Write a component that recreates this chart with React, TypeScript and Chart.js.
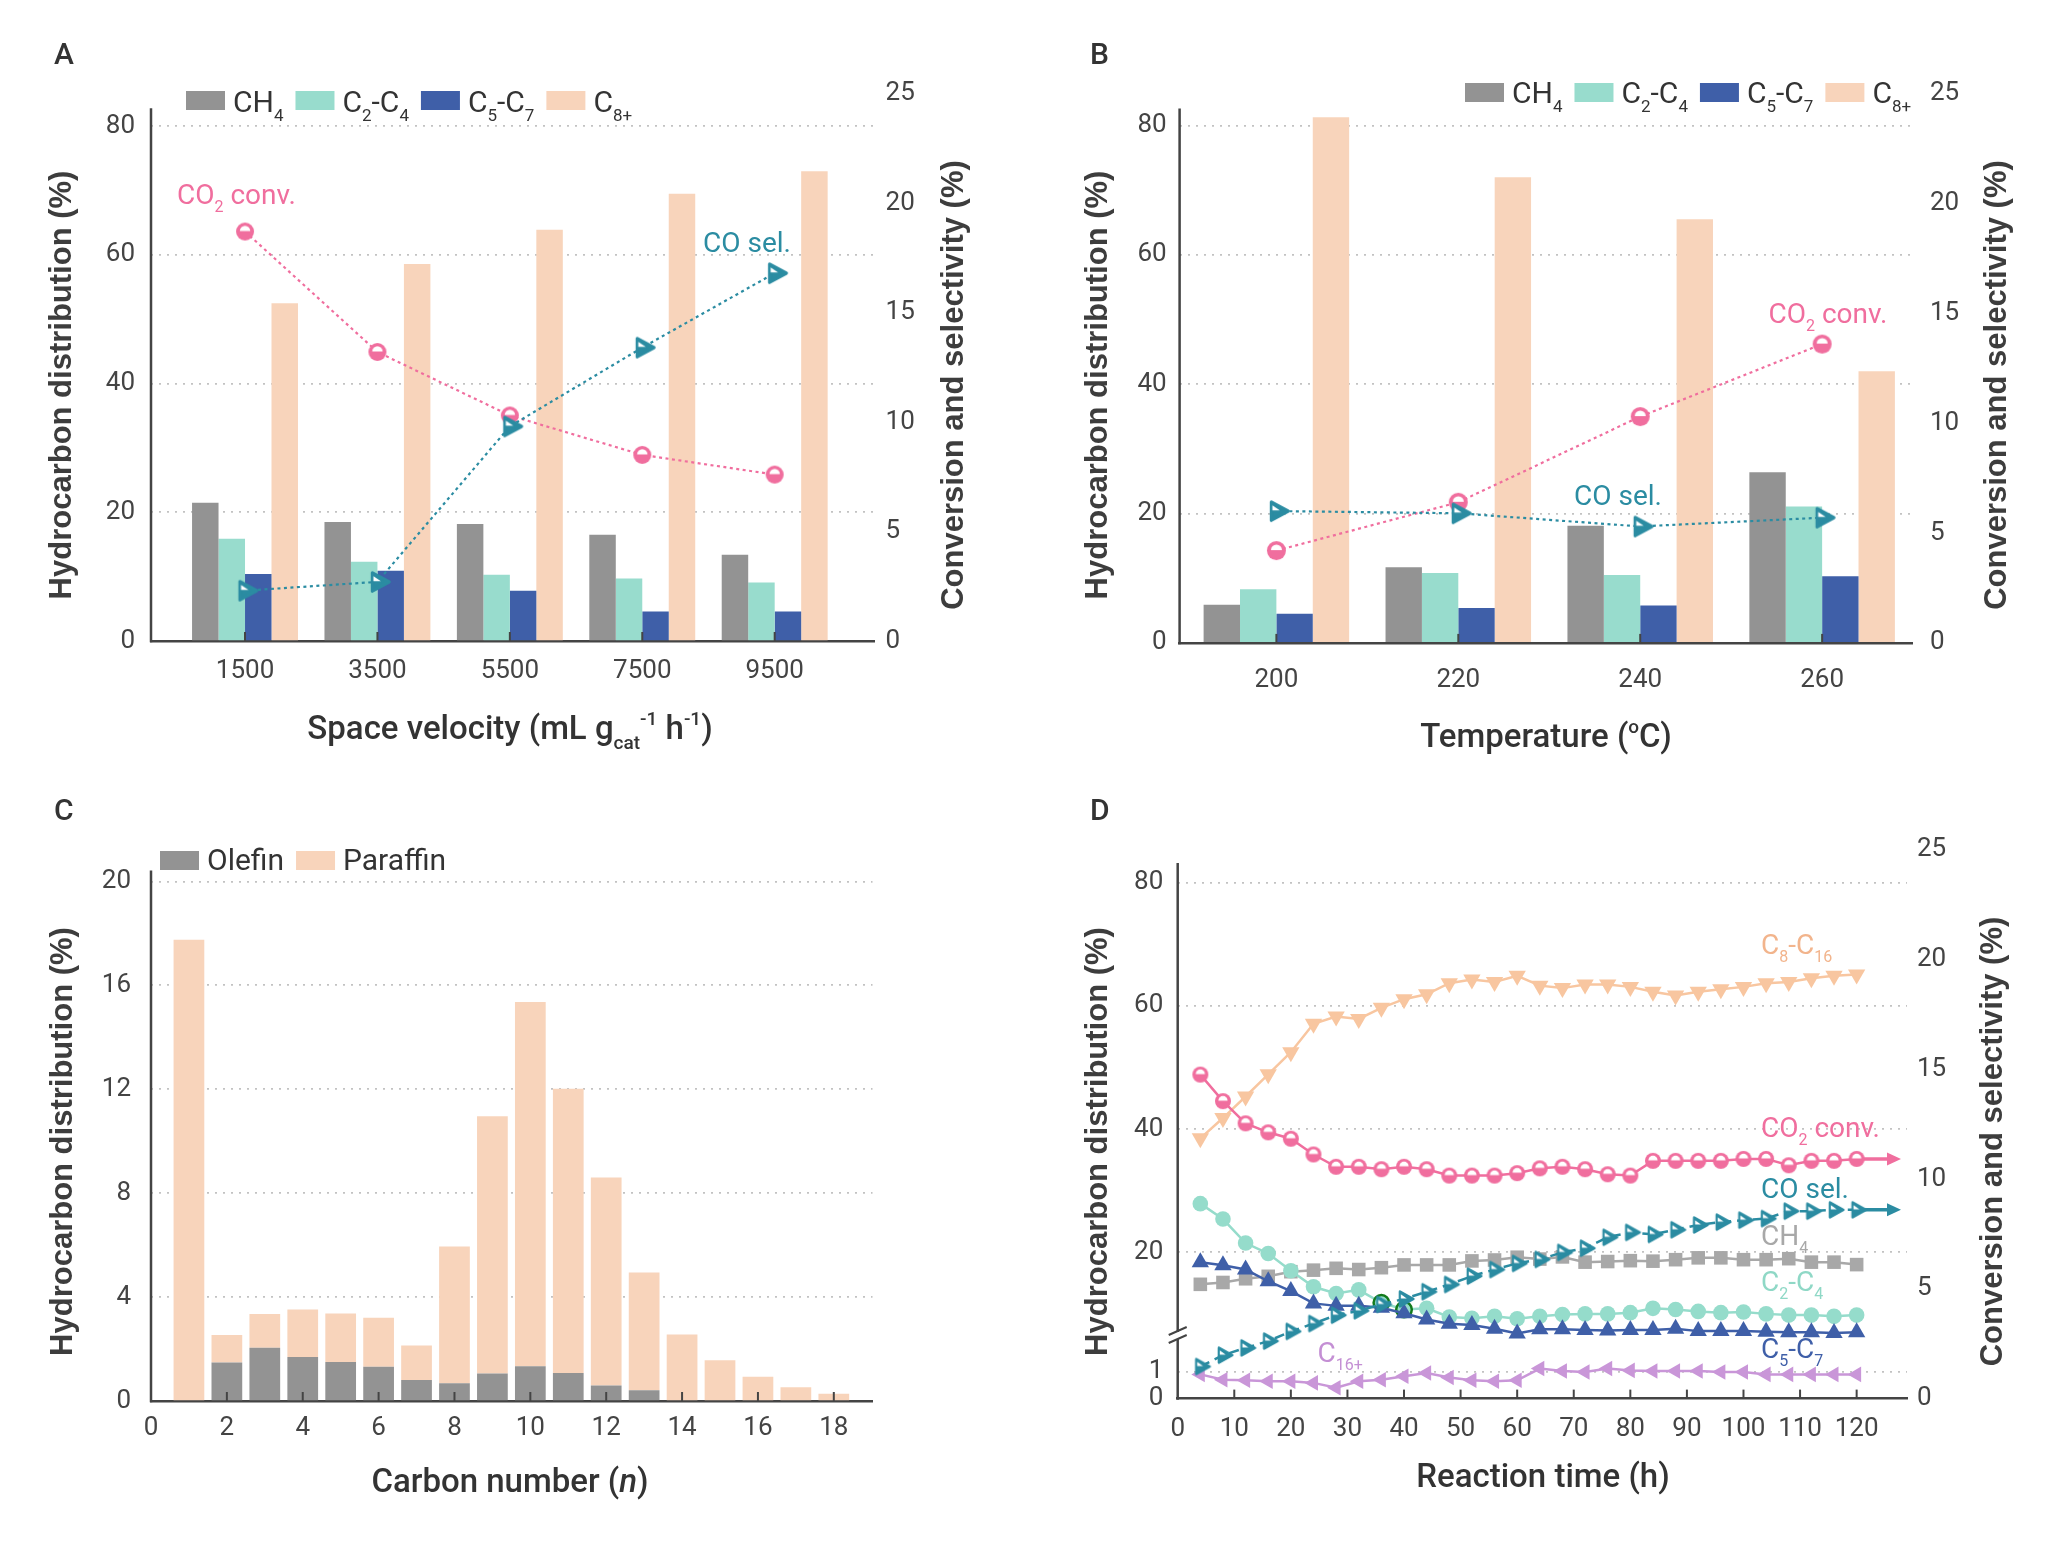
import React, { useEffect, useRef } from 'react';
import Chart from 'chart.js/auto';

// ---------- A: product distribution vs space velocity ----------
const velocityLabels = ['1500', '3500', '5500', '7500', '9500'];
const velocityCH4 = [21.5, 18.5, 18.2, 16.5, 13.4];
const velocityC2C4 = [15.9, 12.3, 10.3, 9.7, 9.1];
const velocityC5C7 = [10.4, 10.9, 7.8, 4.6, 4.6];
const velocityC8 = [52.5, 58.6, 63.9, 69.5, 73.0];
const velocityCO2Conv = [18.7, 13.2, 10.3, 8.5, 7.6];
const velocityCOSel = [2.3, 2.7, 9.8, 13.4, 16.8];

// ---------- B: product distribution vs temperature ----------
const tempLabels = ['200', '220', '240', '260'];
const tempCH4 = [5.9, 11.7, 18.1, 26.4];
const tempC2C4 = [8.3, 10.8, 10.5, 21.1];
const tempC5C7 = [4.5, 5.4, 5.8, 10.3];
const tempC8 = [81.3, 72.0, 65.5, 42.0];
const tempCO2Conv = [4.2, 6.4, 10.3, 13.6];
const tempCOSel = [6.0, 5.9, 5.3, 5.7];

// ---------- C: carbon number distribution ----------
const carbonNumbers = [1, 2, 3, 4, 5, 6, 7, 8, 9, 10, 11, 12, 13, 14, 15, 16, 17, 18];
const olefin = [0, 1.48, 2.05, 1.69, 1.5, 1.32, 0.81, 0.68, 1.06, 1.34, 1.08, 0.6, 0.41, 0, 0, 0, 0, 0];
const paraffin = [17.75, 1.06, 1.3, 1.83, 1.87, 1.88, 1.33, 5.27, 9.9, 14.02, 10.94, 8.0, 4.54, 2.56, 1.57, 0.93, 0.53, 0.28];

// ---------- D: stability test ----------
const hours = [4, 8, 12, 16, 20, 24, 28, 32, 36, 40, 44, 48, 52, 56, 60, 64, 68, 72, 76, 80, 84, 88, 92, 96, 100, 104, 108, 112, 116, 120];
const timeC8C16 = [38.5, 41.8, 45.3, 48.9, 52.5, 57.1, 58.3, 57.9, 59.7, 61.1, 61.9, 63.7, 64.3, 63.9, 64.9, 63.3, 62.9, 63.5, 63.5, 63.1, 62.3, 61.7, 62.3, 62.7, 63.1, 63.7, 63.9, 64.5, 64.9, 65.1];
const timeCO2Conv = [14.76, 13.55, 12.54, 12.13, 11.84, 11.12, 10.56, 10.56, 10.45, 10.56, 10.45, 10.16, 10.16, 10.16, 10.27, 10.49, 10.56, 10.45, 10.22, 10.16, 10.83, 10.83, 10.83, 10.83, 10.92, 10.92, 10.63, 10.83, 10.83, 10.92];
const timeCOSel = [1.46, 1.98, 2.31, 2.62, 3.06, 3.42, 3.8, 4.0, 4.29, 4.54, 4.87, 5.2, 5.58, 5.88, 6.16, 6.34, 6.66, 6.85, 7.35, 7.57, 7.48, 7.69, 7.91, 8.04, 8.13, 8.2, 8.54, 8.54, 8.6, 8.6];
const timeCH4 = [14.8, 15.1, 15.7, 16.1, 16.85, 17.1, 17.4, 17.2, 17.5, 17.95, 17.95, 17.95, 18.6, 18.75, 19.2, 18.9, 19.25, 18.4, 18.5, 18.64, 18.56, 18.8, 19.1, 19.1, 18.8, 18.8, 18.96, 18.4, 18.4, 18.0];
const timeC2C4 = [27.9, 25.4, 21.5, 19.8, 17.0, 14.4, 13.3, 13.9, 11.8, 10.7, 10.9, 9.5, 9.3, 9.6, 9.2, 9.6, 9.9, 10.0, 10.0, 10.2, 10.9, 10.7, 10.4, 10.2, 10.3, 10.0, 9.8, 9.8, 9.6, 9.8];
const timeC5C7 = [18.4, 17.9, 17.2, 15.3, 13.7, 11.7, 11.3, 11.3, 11.0, 10.1, 9.1, 8.4, 8.2, 7.6, 6.8, 7.5, 7.5, 7.4, 7.3, 7.4, 7.4, 7.6, 7.2, 7.2, 7.2, 7.1, 7.0, 7.0, 6.9, 7.0];
const timeC16 = [0.91, 0.71, 0.69, 0.65, 0.65, 0.59, 0.41, 0.65, 0.71, 0.84, 0.96, 0.79, 0.69, 0.65, 0.69, 1.13, 1.04, 1.0, 1.13, 1.06, 1.04, 1.04, 1.04, 1.0, 1.0, 0.91, 0.91, 0.91, 0.91, 0.91];
const ringedHours = [36, 40]; // C2-C4 points drawn with a green ring

// ---------- tick labels ----------
const hydroTicks = [0, 20, 40, 60, 80];
const convTicks = [0, 5, 10, 15, 20, 25];
const carbonYTicks = [0, 4, 8, 12, 16, 20];
const carbonXTicks = [0, 2, 4, 6, 8, 10, 12, 14, 16, 18];
const hourTicks = [0, 10, 20, 30, 40, 50, 60, 70, 80, 90, 100, 110, 120];
const hydroUpperTicks = [20, 40, 60, 80];
const hydroLowerTicks = [0, 1];

const W = 1028;
const H = 772;

const GRAY = '#939393';
const MINT = '#98dccd';
const NAVY = '#3f5fa8';
const PEACH = '#f8d4bb';
const PINK = '#f06e9e';
const TEAL = '#2b8ca2';
const AXIS = '#444444';
const GRID = '#c2c2c2';
const TEXT = '#333333';
const FONT = 'Roboto, "Noto Sans", sans-serif';
const TITLE_FONT = 'bold 31px "Liberation Sans", Arial, sans-serif';
const TICK_FONT = { family: FONT, size: 26 };
const XTITLE = { size: 33, weight: 500, color: TEXT, align: 'center' as const };

const barLegend: [string, string][] = [
  ['CH_{4}', GRAY],
  ['C_{2}-C_{4}', MINT],
  ['C_{5}-C_{7}', NAVY],
  ['C_{8+}', PEACH],
];

Chart.defaults.font.family = FONT;

// ---------- text helpers ----------
type Part = { t: string; s?: 'sub' | 'sup'; i?: boolean };

// "C_{2}" subscript, "^{-1}" superscript, "~{n}" italic
function rich(src: string): Part[] {
  const parts: Part[] = [];
  let buf = '';
  let k = 0;
  while (k < src.length) {
    const ch = src[k];
    if ((ch === '_' || ch === '^' || ch === '~') && src[k + 1] === '{') {
      if (buf) parts.push({ t: buf });
      buf = '';
      const end = src.indexOf('}', k + 2);
      const t = src.slice(k + 2, end);
      parts.push(ch === '~' ? { t, i: true } : { t, s: ch === '_' ? 'sub' : 'sup' });
      k = end + 1;
    } else {
      buf += ch;
      k++;
    }
  }
  if (buf) parts.push({ t: buf });
  return parts;
}

function drawRich(
  ctx: CanvasRenderingContext2D,
  src: string,
  x: number,
  y: number,
  o: { size: number; color: string; weight?: number; align?: 'left' | 'center' }
) {
  const parts = rich(src);
  const wt = o.weight || 400;
  const fontFor = (p: Part) =>
    `${p.i ? 'italic ' : ''}${wt} ${p.s ? Math.round(o.size * 0.58) : o.size}px ${FONT}`;
  ctx.save();
  ctx.fillStyle = o.color;
  ctx.textAlign = 'left';
  ctx.textBaseline = 'alphabetic';
  let total = 0;
  for (const p of parts) {
    ctx.font = fontFor(p);
    total += ctx.measureText(p.t).width;
  }
  let cx = o.align === 'center' ? x - total / 2 : x;
  for (const p of parts) {
    ctx.font = fontFor(p);
    const dy = p.s === 'sub' ? o.size * 0.3 : p.s === 'sup' ? -o.size * 0.42 : 0;
    ctx.fillText(p.t, cx, y + dy);
    cx += ctx.measureText(p.t).width;
  }
  ctx.restore();
  return cx;
}

function vTitle(ctx: CanvasRenderingContext2D, text: string, cx: number, cy: number) {
  ctx.save();
  ctx.translate(cx, cy);
  ctx.rotate(-Math.PI / 2);
  ctx.font = TITLE_FONT;
  ctx.fillStyle = '#3d3d3d';
  ctx.textAlign = 'center';
  ctx.textBaseline = 'middle';
  ctx.fillText(text, 0, 0);
  ctx.restore();
}

function panelLetter(ctx: CanvasRenderingContext2D, t: string, x: number, y: number) {
  ctx.save();
  ctx.font = `500 30px ${FONT}`;
  ctx.fillStyle = TEXT;
  ctx.textAlign = 'left';
  ctx.textBaseline = 'alphabetic';
  ctx.fillText(t, x, y);
  ctx.restore();
}

function drawLegend(ctx: CanvasRenderingContext2D, items: [string, string][], x: number, boxTop: number, baseline: number) {
  let cx = x;
  for (const [label, color] of items) {
    ctx.fillStyle = color;
    ctx.fillRect(cx, boxTop, 39, 19);
    cx = drawRich(ctx, label, cx + 47, baseline, { size: 30, color: TEXT }) + 12;
  }
}

// ---------- axis helpers ----------
function leftAxisLine(chart: any, scaleId: string, topValue: number) {
  const { ctx, chartArea } = chart;
  const y0 = chart.scales[scaleId].getPixelForValue(topValue);
  ctx.save();
  ctx.strokeStyle = AXIS;
  ctx.lineWidth = 2.5;
  ctx.beginPath();
  ctx.moveTo(chartArea.left, y0);
  ctx.lineTo(chartArea.left, chartArea.bottom + 1.25);
  ctx.stroke();
  ctx.restore();
}

function innerTicks(chart: any) {
  const { ctx, chartArea } = chart;
  const x = chart.scales.x;
  ctx.save();
  ctx.strokeStyle = AXIS;
  ctx.lineWidth = 2;
  for (const t of x.ticks) {
    if (t.value <= x.min) continue;
    const px = x.getPixelForValue(t.value);
    ctx.beginPath();
    ctx.moveTo(px, chartArea.bottom);
    ctx.lineTo(px, chartArea.bottom - 9);
    ctx.stroke();
  }
  ctx.restore();
}

function axisBreak(chart: any) {
  const { ctx, chartArea } = chart;
  const j = chart.scales.y.bottom;
  const ax = chartArea.left;
  ctx.save();
  ctx.fillStyle = '#ffffff';
  ctx.fillRect(ax - 3, j - 3, 6, 7);
  ctx.strokeStyle = AXIS;
  ctx.lineWidth = 2;
  ctx.beginPath();
  ctx.moveTo(ax - 9, j);
  ctx.lineTo(ax + 9, j - 8);
  ctx.moveTo(ax - 9, j + 8);
  ctx.lineTo(ax + 9, j);
  ctx.stroke();
  ctx.restore();
}

function arrowFromLast(chart: any, datasetIndex: number, color: string) {
  const { ctx, chartArea } = chart;
  const pts = chart.getDatasetMeta(datasetIndex).data;
  const last = pts[pts.length - 1];
  const tip = chartArea.right - 6;
  ctx.save();
  ctx.strokeStyle = color;
  ctx.fillStyle = color;
  ctx.lineWidth = 3.5;
  ctx.beginPath();
  ctx.moveTo(last.x, last.y);
  ctx.lineTo(tip - 10, last.y);
  ctx.stroke();
  ctx.beginPath();
  ctx.moveTo(tip, last.y);
  ctx.lineTo(tip - 14, last.y - 6.5);
  ctx.lineTo(tip - 14, last.y + 6.5);
  ctx.closePath();
  ctx.fill();
  ctx.restore();
}

const fixedTicks = (values: number[]) => (scale: any) => {
  scale.ticks = values.map((v) => ({ value: v }));
};

function leftAxis(min: number, max: number, ticks: number[], pad: number, extra: any = {}) {
  return {
    type: 'linear',
    position: 'left',
    min,
    max,
    afterBuildTicks: fixedTicks(ticks),
    afterFit: (s: any) => {
      s.width = 80;
    },
    border: { display: false, dash: [2, 6] },
    grid: {
      drawTicks: false,
      lineWidth: 1.7,
      color: (c: any) => (c.tick && c.tick.value === 0 ? 'rgba(0,0,0,0)' : GRID),
    },
    ticks: { padding: pad, font: TICK_FONT, color: AXIS },
    ...extra,
  };
}

function rightAxis(pad: number) {
  return {
    type: 'linear',
    position: 'right',
    min: 0,
    max: 25,
    afterBuildTicks: fixedTicks(convTicks),
    afterFit: (s: any) => {
      s.width = 60;
    },
    border: { display: false },
    grid: { display: false, drawTicks: false },
    ticks: { padding: pad, font: TICK_FONT, color: AXIS },
  };
}

function bottomAxis(min: number, max: number, ticks: number[], pad: number, labels?: string[], stacked = false) {
  return {
    type: 'linear',
    position: 'bottom',
    min,
    max,
    offset: false,
    stacked,
    afterBuildTicks: fixedTicks(ticks),
    afterFit: (s: any) => {
      s.height = 60;
    },
    grid: { display: false, offset: false },
    border: { display: true, color: AXIS, width: 2.5 },
    ticks: {
      padding: pad,
      font: TICK_FONT,
      color: AXIS,
      maxRotation: 0,
      minRotation: 0,
      autoSkip: false,
      callback: (v: any) => (labels ? labels[v] : String(v)),
    },
  };
}

function baseOptions(padding: any, scales: any) {
  return {
    responsive: false,
    animation: false,
    events: [],
    layout: { padding },
    plugins: { legend: { display: false }, tooltip: { enabled: false }, title: { display: false } },
    scales,
  };
}

const decor = (after: (chart: any, ctx: CanvasRenderingContext2D) => void, before?: (chart: any) => void) => ({
  id: 'decor',
  beforeDatasetsDraw: (chart: any) => {
    if (before) before(chart);
  },
  afterDraw: (chart: any) => after(chart, chart.ctx),
});

// ---------- markers ----------
function convMarker(r: number) {
  const c = document.createElement('canvas');
  const s = Math.ceil(2 * r + 2);
  c.width = s;
  c.height = s;
  const g = c.getContext('2d')!;
  const m = s / 2;
  g.fillStyle = PINK;
  g.beginPath();
  g.arc(m, m, r, 0, Math.PI * 2);
  g.fill();
  g.fillStyle = '#ffffff';
  g.beginPath();
  g.arc(m, m - 0.5, r * 0.58, Math.PI, Math.PI * 2);
  g.closePath();
  g.fill();
  return c;
}

function selMarker(w: number) {
  const h = w * 1.08;
  const c = document.createElement('canvas');
  c.width = Math.ceil((w * 4) / 3 + 6);
  c.height = Math.ceil(h + 6);
  const g = c.getContext('2d')!;
  const mx = c.width / 2;
  const my = c.height / 2;
  const lw = w * 0.16;
  g.fillStyle = TEAL;
  g.strokeStyle = TEAL;
  g.lineWidth = lw;
  g.lineJoin = 'round';
  const x0 = mx - w / 3 + lw / 2;
  const x1 = mx + (2 * w) / 3 - lw / 2;
  g.beginPath();
  g.moveTo(x0, my - h / 2 + lw / 2);
  g.lineTo(x1, my);
  g.lineTo(x0, my + h / 2 - lw / 2);
  g.closePath();
  g.fill();
  g.stroke();
  g.fillStyle = '#ffffff';
  g.beginPath();
  g.moveTo(mx - w * 0.2, my - h * 0.27);
  g.lineTo(mx + w * 0.17, my - h * 0.03);
  g.lineTo(mx - w * 0.2, my - h * 0.03);
  g.closePath();
  g.fill();
  return c;
}

const byIndex = (vals: number[]) => vals.map((v, i) => ({ x: i, y: v }));
const byX = (xs: number[], ys: number[]) => ys.map((y, i) => ({ x: xs[i], y }));

const dottedLine = (data: any[], color: string, marker: any) => ({
  type: 'line',
  data,
  yAxisID: 'y1',
  borderColor: color,
  borderWidth: 2.2,
  borderDash: [3, 3.5],
  pointStyle: marker,
  pointRadius: 10,
  tension: 0,
  clip: false,
  order: 0,
});

const groupBar = (data: any[], color: string) => ({
  type: 'bar',
  data,
  yAxisID: 'y',
  backgroundColor: color,
  borderWidth: 0,
  barPercentage: 1,
  categoryPercentage: 0.8,
  order: 1,
});

// ---------- panel configs ----------
function configA() {
  return {
    type: 'bar',
    data: {
      datasets: [
        dottedLine(byIndex(velocityCOSel), TEAL, selMarker(20)),
        dottedLine(byIndex(velocityCO2Conv), PINK, convMarker(9)),
        groupBar(byIndex(velocityCH4), GRAY),
        groupBar(byIndex(velocityC2C4), MINT),
        groupBar(byIndex(velocityC5C7), NAVY),
        groupBar(byIndex(velocityC8), PEACH),
      ],
    },
    options: baseOptions(
      { left: 71, right: 94, top: 93.6, bottom: 71 },
      {
        x: bottomAxis(-0.71, 4.75, velocityLabels.map((_, i) => i), 6.4, velocityLabels),
        y: leftAxis(0, 85.07, hydroTicks, 16),
        y1: rightAxis(11.6),
      }
    ),
    plugins: [
      decor((chart, ctx) => {
        leftAxisLine(chart, 'y', 82.8);
        innerTicks(chart);
        panelLetter(ctx, 'A', 54, 64);
        drawLegend(ctx, barLegend, 186, 91, 112);
        drawRich(ctx, 'CO_{2} conv.', 177, 204, { size: 28, color: PINK });
        drawRich(ctx, 'CO sel.', 703, 252, { size: 28, color: TEAL });
        vTitle(ctx, 'Hydrocarbon distribution (%)', 62, 385);
        vTitle(ctx, 'Conversion and selectivity (%)', 954, 385);
        drawRich(ctx, 'Space velocity (mL g_{cat}^{-1} h^{-1})', 510, 739, XTITLE);
      }),
    ],
  };
}

function configB() {
  return {
    type: 'bar',
    data: {
      datasets: [
        dottedLine(byIndex(tempCOSel), TEAL, selMarker(20)),
        dottedLine(byIndex(tempCO2Conv), PINK, convMarker(9.5)),
        groupBar(byIndex(tempCH4), GRAY),
        groupBar(byIndex(tempC2C4), MINT),
        groupBar(byIndex(tempC5C7), NAVY),
        groupBar(byIndex(tempC8), PEACH),
      ],
    },
    options: baseOptions(
      { left: 71.6, right: 84, top: 93.6, bottom: 69.1 },
      {
        x: bottomAxis(-0.532, 3.494, tempLabels.map((_, i) => i), 14.3, tempLabels),
        y: leftAxis(0, 84.95, hydroTicks, 13),
        y1: rightAxis(18),
      }
    ),
    plugins: [
      decor((chart, ctx) => {
        leftAxisLine(chart, 'y', 82.66);
        innerTicks(chart);
        panelLetter(ctx, 'B', 62, 64);
        drawLegend(ctx, barLegend, 437, 83, 102.5);
        drawRich(ctx, 'CO_{2} conv.', 740.5, 322.7, { size: 28, color: PINK });
        drawRich(ctx, 'CO sel.', 546, 505, { size: 28, color: TEAL });
        vTitle(ctx, 'Hydrocarbon distribution (%)', 70, 385);
        vTitle(ctx, 'Conversion and selectivity (%)', 969, 385);
        drawRich(ctx, 'Temperature (^{o}C)', 518, 747, XTITLE);
      }),
    ],
  };
}

function configC() {
  const stackBar = (data: number[], color: string) => ({
    type: 'bar',
    data: byX(carbonNumbers, data),
    backgroundColor: color,
    borderWidth: 0,
    barPercentage: 1,
    categoryPercentage: 0.81,
  });
  return {
    type: 'bar',
    data: { datasets: [stackBar(olefin, GRAY), stackBar(paraffin, PEACH)] },
    options: baseOptions(
      { left: 71, right: 155.5, top: 98.5, bottom: 83 },
      {
        x: bottomAxis(0, 19.02, carbonXTicks, 3.4, undefined, true),
        y: leftAxis(0, 20.42, carbonYTicks, 20, { stacked: true }),
      }
    ),
    plugins: [
      decor((chart, ctx) => {
        leftAxisLine(chart, 'y', 20.42);
        innerTicks(chart);
        panelLetter(ctx, 'C', 54, 48);
        drawLegend(ctx, [['Olefin', GRAY], ['Paraffin', PEACH]], 160, 79, 97.5);
        vTitle(ctx, 'Hydrocarbon distribution (%)', 63.4, 369.5);
        drawRich(ctx, 'Carbon number (~{n})', 510, 720, XTITLE);
      }),
    ],
  };
}

function configD() {
  const solid = (data: number[], color: string, axis: string, style: any, radius: number, rotation = 0) => ({
    type: 'line',
    data: byX(hours, data),
    yAxisID: axis,
    borderColor: color,
    backgroundColor: color,
    borderWidth: 2.5,
    pointStyle: style,
    pointRadius: radius,
    pointRotation: rotation,
    pointBackgroundColor: color,
    pointBorderWidth: 0,
    tension: 0,
    clip: false,
  });
  const ringed = hours.map((h) => ringedHours.includes(h));
  const c2c4 = {
    ...solid(timeC2C4, '#95dccb', 'y', 'circle', 7.8),
    pointBorderColor: ringed.map((r) => (r ? '#137a1b' : '#95dccb')),
    pointBorderWidth: ringed.map((r) => (r ? 2.5 : 0)),
  };
  return {
    type: 'line',
    data: {
      datasets: [
        { ...solid(timeCOSel, TEAL, 'y1', selMarker(16), 8), borderDash: [10, 6] },
        solid(timeCO2Conv, PINK, 'y1', convMarker(8), 8),
        solid(timeC5C7, NAVY, 'y', 'triangle', 10),
        c2c4,
        solid(timeCH4, '#a8a8a8', 'y', 'rect', 9.6),
        solid(timeC8C16, '#f8c6a0', 'y', 'triangle', 10, 180),
        solid(timeC16, '#c996d8', 'yl', 'triangle', 9, -90),
      ],
    },
    options: baseOptions(
      { left: 69.7, right: 89, top: 77.8, bottom: 85.4 },
      {
        x: bottomAxis(0, 128.9, hourTicks, 7.4),
        // the lower (0-1) segment is listed first so that the stack puts it below the upper one
        yl: leftAxis(0, 2.39, hydroLowerTicks, 14.4, { stack: 'left', stackWeight: 63.6 }),
        y: leftAxis(6.57, 85.36, hydroUpperTicks, 14.4, { stack: 'left', stackWeight: 485.2 }),
        y1: rightAxis(10),
      }
    ),
    plugins: [
      decor(
        (chart, ctx) => {
          leftAxisLine(chart, 'y', 83.2);
          axisBreak(chart);
          innerTicks(chart);
          panelLetter(ctx, 'D', 62, 48);
          drawRich(ctx, 'C_{8}-C_{16}', 733, 182, { size: 28, color: '#f2b48c' });
          drawRich(ctx, 'CO_{2} conv.', 733, 364.5, { size: 28, color: PINK });
          drawRich(ctx, 'CO sel.', 733, 426, { size: 28, color: TEAL });
          drawRich(ctx, 'CH_{4}', 733, 473, { size: 28, color: '#a8a8a8' });
          drawRich(ctx, 'C_{2}-C_{4}', 733, 518.7, { size: 28, color: '#8fd8c6' });
          drawRich(ctx, 'C_{5}-C_{7}', 733, 586, { size: 28, color: NAVY });
          drawRich(ctx, 'C_{16+}', 289.5, 589.7, { size: 28, color: '#c48fd4' });
          vTitle(ctx, 'Hydrocarbon distribution (%)', 70, 369.5);
          vTitle(ctx, 'Conversion and selectivity (%)', 965, 369.5);
          drawRich(ctx, 'Reaction time (h)', 515, 715, XTITLE);
        },
        (chart) => {
          arrowFromLast(chart, 1, PINK);
          arrowFromLast(chart, 0, TEAL);
        }
      ),
    ],
  };
}

const Panel: React.FC<{ left: number; top: number; build: () => any }> = ({ left, top, build }) => {
  const canvasRef = useRef<HTMLCanvasElement>(null);
  const chartRef = useRef<Chart | null>(null);

  useEffect(() => {
    if (!canvasRef.current) return;
    if (chartRef.current) chartRef.current.destroy();
    chartRef.current = new Chart(canvasRef.current, build());
    return () => {
      if (chartRef.current) {
        chartRef.current.destroy();
        chartRef.current = null;
      }
    };
  }, [build]);

  return (
    <div style={{ position: 'absolute', left, top, width: W, height: H }}>
      <canvas ref={canvasRef} width={W} height={H} style={{ width: W, height: H, display: 'block' }} />
    </div>
  );
};

export default function App() {
  return (
    <div style={{ position: 'absolute', left: 0, top: 0, width: 2 * W, height: 2 * H, background: '#ffffff' }}>
      <Panel left={0} top={0} build={configA} />
      <Panel left={W} top={0} build={configB} />
      <Panel left={0} top={H} build={configC} />
      <Panel left={W} top={H} build={configD} />
    </div>
  );
}
